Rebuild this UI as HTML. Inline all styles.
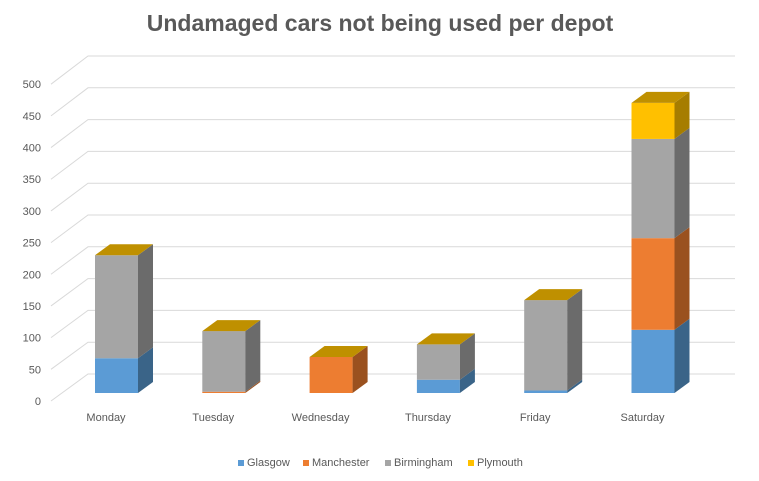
<!DOCTYPE html>
<html><head><meta charset="utf-8"><style>
body{margin:0;background:#fff;}
svg{display:block;font-family:"Liberation Sans",sans-serif;}
</style></head><body>
<svg id="chart" width="759" height="481">
<text x="380" y="31" text-anchor="middle" font-size="23" font-weight="bold" fill="#595959">Undamaged cars not being used per depot</text>
<g id="grid"></g>
<g id="bars"></g>
<g id="legend"></g>
</svg>
<script>
const categories=["Monday","Tuesday","Wednesday","Thursday","Friday","Saturday"];
const seriesNames=["Glasgow","Manchester","Birmingham","Plymouth"];
const glasgow=[55,0,0,21,4,100];
const manchester=[0,2,57,0,0,145];
const birmingham=[163,96,0,56,143,157];
const plymouth=[0,0,0,0,0,57];
const ticks=[0,50,100,150,200,250,300,350,400,450,500];
const front=["#5b9bd5","#ed7d31","#a5a5a5","#ffc000"];
const side=["#3a6488","#9a511f","#6b6b6b","#a67d00"];
const topc=["#4a80b0","#c26628","#888888","#bf9000"];
const NS="http://www.w3.org/2000/svg";
const grid=document.getElementById('grid'),bars=document.getElementById('bars'),legend=document.getElementById('legend');
function mk(tag,attrs,parent){const e=document.createElementNS(NS,tag);for(const k in attrs)e.setAttribute(k,attrs[k]);parent.appendChild(e);return e;}
const yFront=v=>401-v*0.6336;
const yBack=v=>374-v*0.636;
const yBar=v=>393-v*0.632;
ticks.forEach(t=>{
 const p=mk('polyline',{points:`51,${yFront(t)} 88,${yBack(t)} 735,${yBack(t)}`,fill:'none',stroke:'#d9d9d9','stroke-width':1},grid);
 
 
 const l=mk('text',{x:41,y:yFront(t)+4,'text-anchor':'end','font-size':11,fill:'#595959'},grid);
 l.textContent=t;
 
 
});
const series=[glasgow,manchester,birmingham,plymouth];
const dx=15,dy=11,w=43;
categories.forEach((c,i)=>{
 const x=95+i*107.3;
 let cum=0;
 series.forEach((s,k)=>{
  const v=s[i];const y0=yBar(cum),y1=yBar(cum+v);cum+=v;
  if(v<=0)return;
  const f=mk('rect',{x:x,y:y1,width:w,height:y0-y1,fill:front[k]},bars);
  
  
  const sd=mk('polygon',{points:`${x+w},${y0} ${x+w+dx},${y0-dy} ${x+w+dx},${y1-dy} ${x+w},${y1}`,fill:side[k]},bars);
  
  
 });
 const yt=yBar(cum);
 const tp=mk('polygon',{points:`${x},${yt} ${x+dx},${yt-dy} ${x+w+dx},${yt-dy} ${x+w},${yt}`,fill:topc[3]},bars);
 
 
 const lb=mk('text',{x:106+i*107.3,y:421,'text-anchor':'middle','font-size':11,fill:'#595959'},bars);
 lb.textContent=c;
 
 
});
const lx=[238,303,385,468];
seriesNames.forEach((n,k)=>{
 const r=mk('rect',{x:lx[k],y:460,width:6,height:6,fill:front[k]},legend);
 
 
 const t=mk('text',{x:lx[k]+9,y:466,'font-size':11,fill:'#595959'},legend);
 t.textContent=n;
 
 
});
</script>
</body></html>
